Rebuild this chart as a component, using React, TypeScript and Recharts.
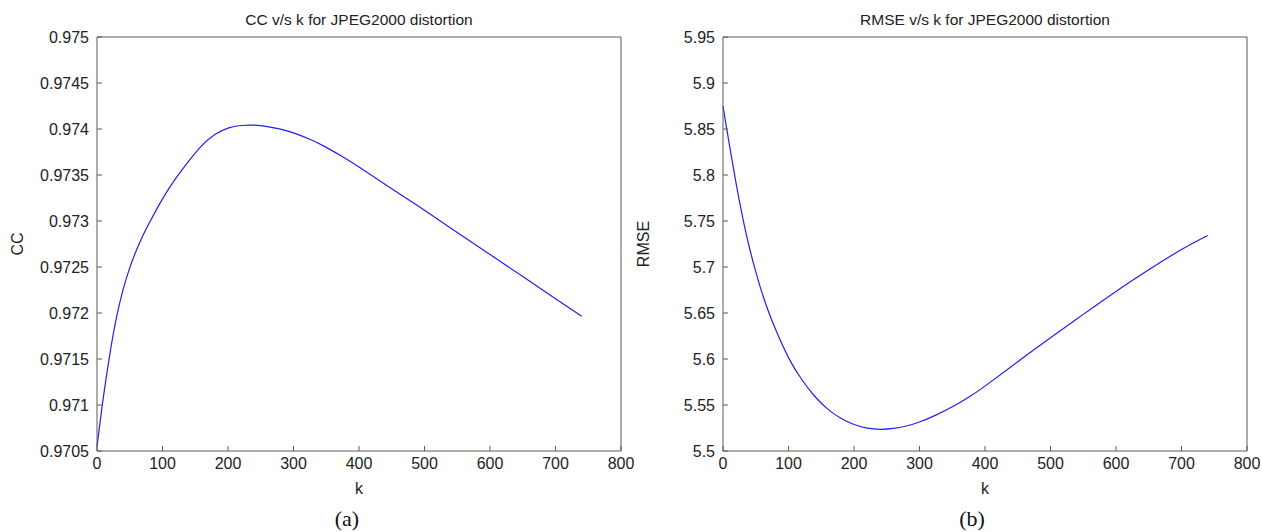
import { LineChart, Line, XAxis, YAxis } from "recharts";

const kValues = [0, 5, 10, 20, 30, 40, 50, 60, 70, 80, 100, 120, 140, 160, 180, 200, 220, 240, 260, 280, 300, 325, 350, 375, 400, 450, 500, 550, 600, 650, 700, 740];
const ccValues = [0.97055, 0.97083, 0.9711, 0.97157, 0.97196, 0.97226, 0.97249, 0.97268, 0.97284, 0.97298, 0.97324, 0.97346, 0.97365, 0.97382, 0.97394, 0.97401, 0.974038, 0.974042, 0.974025, 0.973998, 0.973958, 0.973888, 0.9738, 0.973698, 0.973586, 0.973351, 0.973116, 0.972876, 0.972636, 0.972396, 0.972156, 0.971966];
const rmseValues = [5.875, 5.853, 5.832, 5.791, 5.754, 5.722, 5.695, 5.671, 5.6505, 5.6325, 5.6015, 5.578, 5.5595, 5.5455, 5.5355, 5.5288, 5.5249, 5.5236, 5.5245, 5.5272, 5.5315, 5.539, 5.548, 5.5585, 5.5705, 5.597, 5.623, 5.6485, 5.6735, 5.697, 5.719, 5.7343];

const kTicks = [0, 100, 200, 300, 400, 500, 600, 700, 800];
const ccTicks = [0.9705, 0.971, 0.9715, 0.972, 0.9725, 0.973, 0.9735, 0.974, 0.9745, 0.975];
const rmseTicks = [5.5, 5.55, 5.6, 5.65, 5.7, 5.75, 5.8, 5.85, 5.9, 5.95];

const ccData = kValues.map((k, i) => ({ k, v: ccValues[i] }));
const rmseData = kValues.map((k, i) => ({ k, v: rmseValues[i] }));

const FONT = "'Liberation Sans', Arial, Helvetica, sans-serif";
const AXIS = "#5a5a5a";
const tickStyle = { fill: "#222", fontSize: 16, fontFamily: FONT };

type PanelProps = {
  data: { k: number; v: number }[];
  yTicks: number[];
  left: number;
  title: string;
  yLabel: string;
  tag: string;
  tagX: number;
};

function Panel({ data, yTicks, left, title, yLabel, tag, tagX }: PanelProps) {
  const plotLeft = 97;
  const plotRight = 621;
  const domainY = [yTicks[0], yTicks[yTicks.length - 1]];
  return (
    <>
      <div style={{ position: "absolute", left, top: 0 }}>
        <LineChart
          width={plotRight + 30}
          height={532}
          data={data}
          margin={{ top: 27, right: 0, bottom: 51, left: 37 }}
        >
          <XAxis
            xAxisId="x"
            dataKey="k"
            type="number"
            domain={[0, 800]}
            ticks={kTicks}
            interval={0}
            height={30}
            tickSize={-5}
            tickMargin={11.6}
            tick={tickStyle}
            axisLine={{ stroke: AXIS }}
            tickLine={{ stroke: AXIS }}
          />
          <XAxis
            xAxisId="top"
            orientation="top"
            dataKey="k"
            type="number"
            domain={[0, 800]}
            ticks={kTicks}
            interval={0}
            height={10}
            tickSize={-5}
            tick={false}
            axisLine={{ stroke: AXIS }}
            tickLine={{ stroke: AXIS }}
          />
          <YAxis
            yAxisId="y"
            type="number"
            domain={domainY}
            ticks={yTicks}
            interval={0}
            width={60}
            tickSize={-5}
            tickMargin={13}
            tick={tickStyle}
            axisLine={{ stroke: AXIS }}
            tickLine={{ stroke: AXIS }}
          />
          <YAxis
            yAxisId="right"
            orientation="right"
            type="number"
            domain={domainY}
            ticks={yTicks}
            interval={0}
            width={30}
            tickSize={-5}
            tick={false}
            axisLine={{ stroke: AXIS }}
            tickLine={{ stroke: AXIS }}
          />
          <Line
            xAxisId="x"
            yAxisId="y"
            dataKey="v"
            type="natural"
            stroke="#2020f5"
            strokeWidth={1.2}
            dot={false}
            isAnimationActive={false}
          />
        </LineChart>
      </div>
      <div
        style={{
          position: "absolute",
          left: left + plotLeft,
          width: plotRight - plotLeft,
          top: 11,
          lineHeight: "18px",
          textAlign: "center",
          fontFamily: FONT,
          fontSize: 15.5,
          color: "#222",
        }}
      >
        {title}
      </div>
      <div
        style={{
          position: "absolute",
          left: left + plotLeft,
          width: plotRight - plotLeft,
          top: 479,
          lineHeight: "20px",
          textAlign: "center",
          fontFamily: FONT,
          fontSize: 16,
          color: "#222",
        }}
      >
        k
      </div>
      <div
        style={{
          position: "absolute",
          left: left + 18 - 50,
          top: 244 - 10,
          width: 100,
          lineHeight: "20px",
          textAlign: "center",
          transform: "rotate(-90deg)",
          fontFamily: FONT,
          fontSize: 16,
          color: "#222",
        }}
      >
        {yLabel}
      </div>
      <div
        style={{
          position: "absolute",
          left: tagX - 50,
          top: 506,
          width: 100,
          lineHeight: "26px",
          textAlign: "center",
          fontFamily: "'Liberation Serif', 'Times New Roman', serif",
          fontSize: 22,
          color: "#111",
        }}
      >
        {tag}
      </div>
    </>
  );
}

export default function App() {
  return (
    <div
      style={{
        position: "absolute",
        left: 0,
        top: 0,
        width: 1262,
        height: 532,
        background: "#fff",
        overflow: "hidden",
      }}
    >
      <Panel
        data={ccData}
        yTicks={ccTicks}
        left={0}
        title="CC v/s k for JPEG2000 distortion"
        yLabel="CC"
        tag="(a)"
        tagX={347}
      />
      <Panel
        data={rmseData}
        yTicks={rmseTicks}
        left={626}
        title="RMSE v/s k for JPEG2000 distortion"
        yLabel="RMSE"
        tag="(b)"
        tagX={972}
      />
    </div>
  );
}
